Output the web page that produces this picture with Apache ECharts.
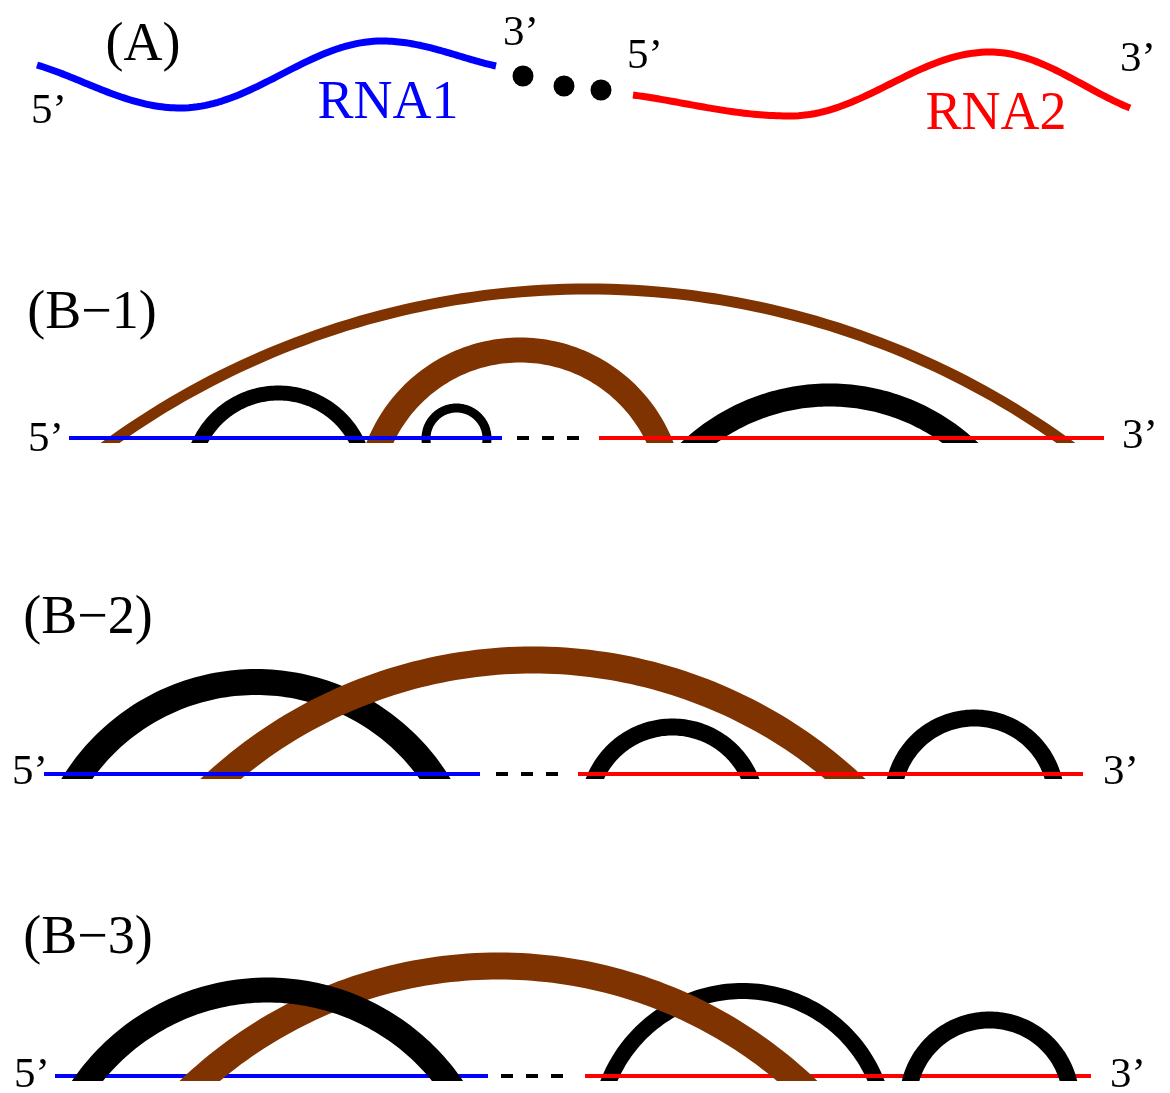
<!DOCTYPE html>
<html>
<head>
<meta charset="utf-8">
<script src="https://cdn.jsdelivr.net/npm/echarts@6/dist/echarts.min.js"></script>
<style>
  html, body { margin: 0; padding: 0; background: #fff; }
  #main { width: 1170px; height: 1093px; }
</style>
</head>
<body>
<div id="main"></div>
<script>
// --- data (page units, y grows downward) ---
// (A) key points of the two strands: ends, then troughs / crests
const rna1Curve = [[37, 65], [180, 108], [382, 41], [496, 66]];
const rna2Curve = [[633, 95], [790, 116], [990, 52], [1130, 108]];
const gapDots = [[523, 76], [564, 86], [601, 90]];

// (B) baselines: y of each panel, RNA1 span, dashed gap, RNA2 span
const panelBase = [438, 774, 1076];
const rna1Span = [[69, 502], [44, 480], [55, 488]];
const gapSpan = [[517, 579], [496, 559], [501, 566]];
const rna2Span = [[599, 1104], [578, 1083], [585, 1091]];

// arcs: [from, to, height, weight] in draw order (later on top)
const arcsB1 = [[117, 1059, 149, 11], [202, 355, 45, 15], [382, 658, 88, 25], [426, 487, 30, 9], [704, 955, 43, 23]];
const arcsB2 = [[80, 432, 92, 26], [226, 840, 114, 27], [597, 748, 47, 17], [897, 1052, 56, 17]];
const arcsB3 = [[611, 874, 85, 16], [205, 792, 110, 27], [91, 444, 86, 25], [912, 1067, 56, 17]];

// text labels and where they sit
const labelText = ['(A)', '5’', 'RNA1', '3’', '5’', 'RNA2', '3’',
  '(B−1)', '5’', '3’', '(B−2)', '5’', '3’', '(B−3)', '5’', '3’'];
const labelAt = [[143, 46], [49, 112], [388, 104], [521, 34], [645, 57], [996, 115], [1138, 60],
  [92, 314], [46, 440], [1140, 437], [88, 619], [30, 773], [1121, 773], [88, 939], [32, 1076], [1128, 1076]];
const labelKind = ['big', 'end', 'rna1', 'end', 'end', 'rna2', 'end',
  'big', 'end', 'end', 'big', 'end', 'end', 'big', 'end', 'end'];

const BROWN = '#7f3300';
const SERIF = '"Liberation Serif", "DejaVu Serif", serif';
const labelStyle = {
  big: { size: 54, color: '#000' },
  end: { size: 43, color: '#000' },
  rna1: { size: 54, color: '#0000ff' },
  rna2: { size: 54, color: '#ff0000' }
};

var myChart = echarts.init(document.getElementById('main'));

var arcData = [];
[arcsB1, arcsB2, arcsB3].forEach(function (list, p) {
  list.forEach(function (a) {
    arcData.push([a[0], a[1], a[2], a[3], p]);
  });
});

// band between two concentric circles, cut flat just under the baseline
function renderArc(params, api) {
  var x1 = api.value(0), x2 = api.value(1), h = api.value(2), w = api.value(3), p = api.value(4);
  var yb = panelBase[p];
  var cut = yb + 5;
  var a = (x2 - x1) / 2;
  var R = (a * a + h * h) / (2 * h);
  var cx = (x1 + x2) / 2;
  var cy = yb - h + R;
  var gap = gapSpan[p];
  var inter = x1 < gap[0] && x2 > gap[1];

  function ring(r, dir) {
    var dy = cy - cut;
    var dx = Math.sqrt(Math.max(r * r - dy * dy, 0));
    var te = Math.atan2(dx, dy);
    var pts = [];
    var n = 90;
    for (var i = 0; i <= n; i++) {
      var t = dir > 0 ? -te + 2 * te * i / n : te - 2 * te * i / n;
      pts.push(api.coord([cx + r * Math.sin(t), cy - r * Math.cos(t)]));
    }
    return pts;
  }
  var pts = ring(R + w / 2, 1).concat(ring(R - w / 2, -1));
  return {
    type: 'polygon',
    z2: params.dataIndex,
    shape: { points: pts },
    style: { fill: inter ? BROWN : '#000' }
  };
}

// strand: flat at each inner trough/crest, heading straight at the free ends
function strandRenderer(points, color) {
  return function (params, api) {
    if (params.dataIndex !== 0) return null;
    var last = points.length - 1;
    var pts = [];
    for (var i = 0; i < last; i++) {
      var p0 = points[i], p3 = points[i + 1];
      var dx = p3[0] - p0[0], dy = p3[1] - p0[1];
      var c1 = i === 0 ? [p0[0] + dx / 3, p0[1] + dy / 3] : [p0[0] + dx * 0.36, p0[1]];
      var c2 = i + 1 === last ? [p3[0] - dx / 3, p3[1] - dy / 3] : [p3[0] - dx * 0.36, p3[1]];
      for (var k = (i === 0 ? 0 : 1); k <= 50; k++) {
        var t = k / 50, u = 1 - t;
        var b0 = u * u * u, b1 = 3 * u * u * t, b2 = 3 * u * t * t, b3 = t * t * t;
        pts.push(api.coord([
          b0 * p0[0] + b1 * c1[0] + b2 * c2[0] + b3 * p3[0],
          b0 * p0[1] + b1 * c1[1] + b2 * c2[1] + b3 * p3[1]
        ]));
      }
    }
    return {
      type: 'polyline',
      shape: { points: pts },
      style: { stroke: color, lineWidth: 7, fill: null, lineJoin: 'round' }
    };
  };
}

function renderLabel(params, api) {
  var i = params.dataIndex;
  var pt = api.coord([api.value(0), api.value(1)]);
  var st = labelStyle[labelKind[i]];
  return {
    type: 'text',
    x: pt[0],
    y: pt[1],
    style: {
      text: labelText[i],
      fontFamily: SERIF,
      fontSize: st.size,
      fill: st.color,
      align: 'center',
      verticalAlign: 'middle'
    }
  };
}

var series = [
  { type: 'custom', data: rna1Curve, renderItem: strandRenderer(rna1Curve, '#0000ff'), silent: true },
  { type: 'custom', data: rna2Curve, renderItem: strandRenderer(rna2Curve, '#ff0000'), silent: true },
  {
    type: 'scatter', data: gapDots, symbol: 'circle', symbolSize: 21, silent: true,
    itemStyle: { color: '#000', opacity: 1 }
  }
];

panelBase.forEach(function (y, p) {
  series.push({
    type: 'line', symbol: 'none', silent: true,
    data: [[rna1Span[p][0], y], [rna1Span[p][1], y]],
    lineStyle: { color: '#0000ff', width: 4 }
  });
  series.push({
    type: 'line', symbol: 'none', silent: true,
    data: [[gapSpan[p][0], y], [gapSpan[p][1], y]],
    lineStyle: { color: '#000', width: 4, type: [12, 13] }
  });
  series.push({
    type: 'line', symbol: 'none', silent: true,
    data: [[rna2Span[p][0], y], [rna2Span[p][1], y]],
    lineStyle: { color: '#ff0000', width: 4 }
  });
});

series.push({
  type: 'custom', renderItem: renderArc, data: arcData, silent: true, z: 3
});
series.push({
  type: 'custom', renderItem: renderLabel, data: labelAt, silent: true, z: 4
});

myChart.setOption({
  animation: false,
  grid: { left: 0, right: 0, top: 0, bottom: 0, containLabel: false, outerBoundsMode: 'none' },
  xAxis: { type: 'value', min: 0, max: 1170, show: false },
  yAxis: { type: 'value', min: 0, max: 1093, inverse: true, show: false },
  series: series
});
</script>
</body>
</html>
